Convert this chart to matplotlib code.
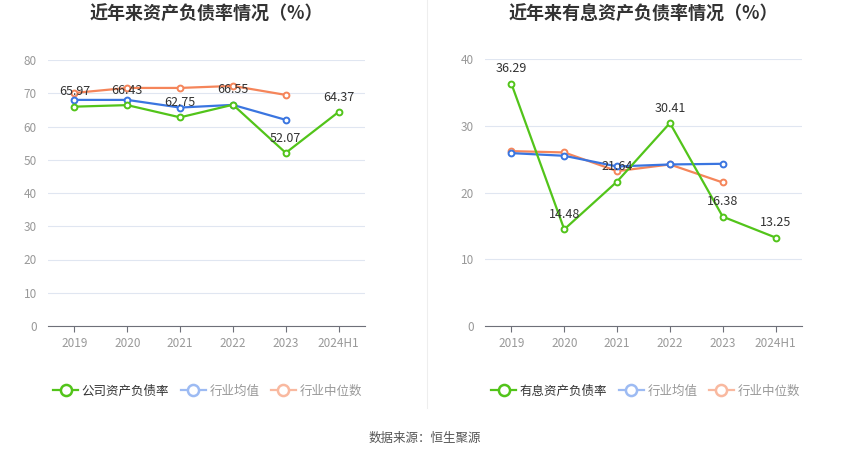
import matplotlib
matplotlib.use("Agg")
import matplotlib.pyplot as plt
from matplotlib.lines import Line2D

plt.rcParams['font.family'] = ['Noto Sans CJK SC', 'DejaVu Sans']

categories = ["2019", "2020", "2021", "2022", "2023", "2024H1"]

# Left chart: asset-liability ratio
company_ratio = [65.97, 66.43, 62.75, 66.55, 52.07, 64.37]
industry_mean = [68.0, 68.0, 65.7, 66.5, 62.0]
industry_median = [70.1, 71.6, 71.6, 72.2, 69.5]

# Right chart: interest-bearing asset-liability ratio
interest_ratio = [36.29, 14.48, 21.64, 30.41, 16.38, 13.25]
interest_mean = [25.9, 25.5, 23.9, 24.2, 24.3]
interest_median = [26.2, 26.0, 23.2, 24.2, 21.5]

left_title = "近年来资产负债率情况（%）"
right_title = "近年来有息资产负债率情况（%）"
left_legend = ["公司资产负债率", "行业均值", "行业中位数"]
right_legend = ["有息资产负债率", "行业均值", "行业中位数"]
source_text = "数据来源：恒生聚源"

GREEN = "#52c41a"
BLUE = "#3a75e0"
ORANGE = "#f5855a"
BLUE_L = "#9dbbf3"
ORANGE_L = "#f9b9a0"

fig = plt.figure(figsize=(8.5, 4.59), dpi=100)

def draw(ax, main, mean, median, ymax, yticks, title, legend_labels, legend_x):
    x = list(range(len(categories)))
    kw = dict(lw=1.6, marker='o', ms=4.2, mfc='white', mew=1.4)
    ax.plot(x[:len(median)], median, color=ORANGE, mec=ORANGE, zorder=3, **kw)
    ax.plot(x[:len(mean)], mean, color=BLUE, mec=BLUE, zorder=4, **kw)
    ax.plot(x, main, color=GREEN, mec=GREEN, zorder=5, **kw)
    for xi, v in zip(x, main):
        ax.annotate(f"{v:.2f}", (xi, v), xytext=(0, 6), textcoords='offset points',
                    ha='center', va='bottom', fontsize=9, color='#333333', zorder=6)
    ax.set_xlim(-0.5, len(categories) - 0.5)
    ax.set_ylim(0, ymax)
    ax.set_yticks(yticks)
    ax.set_xticks(x)
    ax.set_xticklabels(categories)
    ax.grid(axis='y', color='#e0e6f1', lw=0.8)
    ax.set_axisbelow(True)
    for s in ['top', 'right', 'left']:
        ax.spines[s].set_visible(False)
    ax.spines['bottom'].set_color('#6e7079')
    ax.tick_params(axis='y', length=0, labelsize=8.5, labelcolor='#999999', pad=8)
    ax.tick_params(axis='x', length=4, color='#6e7079', labelsize=8.5,
                   labelcolor='#999999', pad=4)
    pos = ax.get_position()
    fig.text(pos.x0 + pos.width / 2, 1 - 14 / 459, title, ha='center', va='center',
             fontsize=13, fontweight='bold', color='#333333')
    handles = [
        Line2D([0], [0], color=GREEN, lw=1.6, marker='o', ms=8, mfc='white', mec=GREEN, mew=1.8),
        Line2D([0], [0], color=BLUE_L, lw=1.6, marker='o', ms=8, mfc='white', mec=BLUE_L, mew=1.8),
        Line2D([0], [0], color=ORANGE_L, lw=1.6, marker='o', ms=8, mfc='white', mec=ORANGE_L, mew=1.8),
    ]
    leg = fig.legend(handles, legend_labels, loc='center left',
                     bbox_to_anchor=(legend_x, 1 - 391 / 459), ncol=3, frameon=False,
                     fontsize=9, handlelength=2.0, handletextpad=0.3, columnspacing=0.9,
                     borderaxespad=0, borderpad=0)
    cols = ['#333333', '#999999', '#999999']
    for t, c in zip(leg.get_texts(), cols):
        t.set_color(c)

bottom = 1 - 326 / 459
height = (326 - 60) / 459
ax1 = fig.add_axes([48 / 850, bottom, 317 / 850, height])
draw(ax1, company_ratio, industry_mean, industry_median, 80, range(0, 81, 10),
     left_title, left_legend, 53 / 850)

height2 = (326 - 59) / 459
ax2 = fig.add_axes([485 / 850, bottom, 317 / 850, height2])
draw(ax2, interest_ratio, interest_mean, interest_median, 40, range(0, 41, 10),
     right_title, right_legend, 491 / 850)

fig.add_artist(Line2D([427 / 850, 427 / 850], [1 - 408 / 459, 1.0],
                      transform=fig.transFigure, color='#eeeeee', lw=0.8))
fig.text(0.5, 1 - 438 / 459, source_text, ha='center', va='center',
         fontsize=9, color='#555555')

fig.savefig("out.png", dpi=100)
